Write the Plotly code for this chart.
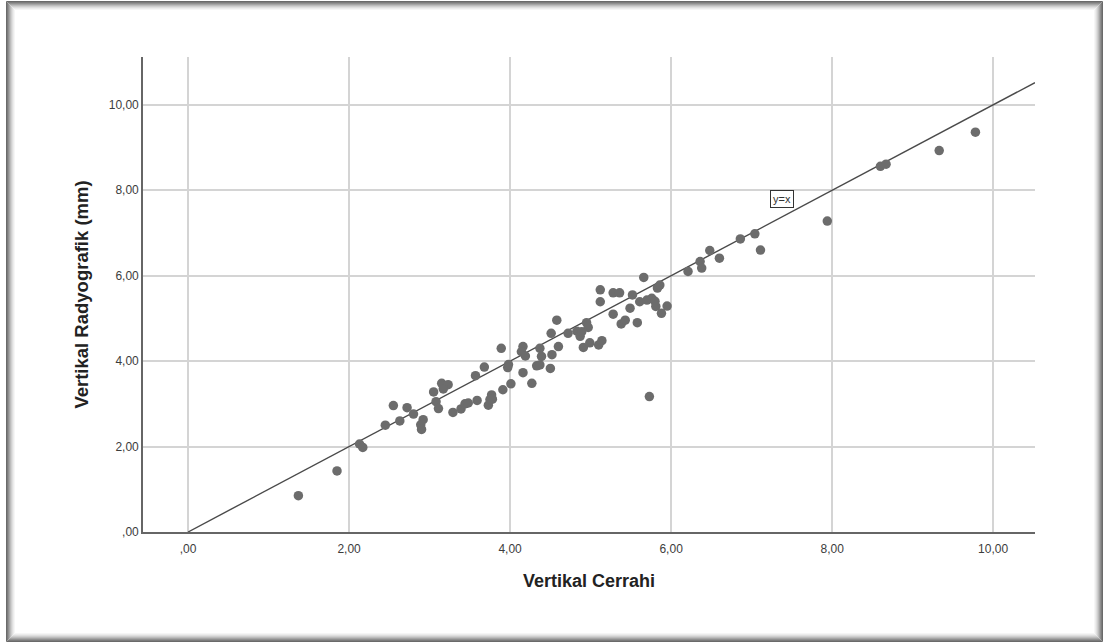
import plotly.graph_objects as go

# Data (Vertikal Cerrahi vs Vertikal Radyografik)
cerrahi = [1.37, 1.85, 2.13, 2.17, 2.45, 2.55, 2.63, 2.72, 2.80, 2.92, 2.89, 2.90,
           3.05, 3.08, 3.11, 3.15, 3.23, 3.17, 3.29, 3.39, 3.44, 3.48, 3.57, 3.68,
           3.59, 3.73, 3.75, 3.77, 3.91, 4.01, 3.97, 3.98, 4.16, 4.27, 3.89, 4.58,
           4.51, 4.16, 4.14, 4.19, 4.37, 4.39, 4.60, 4.52, 4.33, 4.37, 4.50, 4.72,
           4.83, 4.87, 4.95, 4.97, 4.91, 4.99, 5.10, 5.14, 5.12, 5.12, 5.28, 5.36,
           5.28, 5.38, 5.43, 5.49, 5.52, 5.58, 5.66, 5.61, 5.70, 5.76, 5.80, 5.83,
           5.86, 5.81, 5.88, 5.95, 5.73, 6.21, 6.36, 6.38, 6.48, 6.60, 6.86, 7.04,
           7.11, 7.94, 8.60, 8.67, 9.33, 9.78, 4.89, 3.78]
radyografik = [0.85, 1.43, 2.06, 1.98, 2.50, 2.96, 2.60, 2.91, 2.76, 2.63, 2.51, 2.40,
               3.28, 3.05, 2.89, 3.48, 3.45, 3.35, 2.80, 2.88, 3.00, 3.02, 3.66, 3.86,
               3.08, 2.97, 3.10, 3.21, 3.33, 3.47, 3.85, 3.92, 3.73, 3.48, 4.30, 4.96,
               4.65, 4.34, 4.22, 4.12, 4.30, 4.11, 4.34, 4.15, 3.89, 3.91, 3.83, 4.65,
               4.70, 4.58, 4.90, 4.79, 4.32, 4.43, 4.38, 4.48, 5.67, 5.39, 5.60, 5.60,
               5.10, 4.87, 4.96, 5.24, 5.55, 4.90, 5.96, 5.39, 5.43, 5.47, 5.40, 5.71,
               5.78, 5.28, 5.12, 5.29, 3.17, 6.10, 6.33, 6.18, 6.59, 6.41, 6.86, 6.98,
               6.60, 7.28, 8.56, 8.61, 8.93, 9.36, 4.69, 3.11]
ref_line = [0.0, 10.52]
x_ticks = [0, 2, 4, 6, 8, 10]
x_tick_text = [",00", "2,00", "4,00", "6,00", "8,00", "10,00"]
y_ticks = [0, 2, 4, 6, 8, 10]
y_tick_text = [",00", "2,00", "4,00", "6,00", "8,00", "10,00"]

W, H = 1104, 643
L, R, T, B = 143, 69, 57, 111
PW, PH = W - L - R, H - T - B

def px(xp):
    return (xp - L) / PW

def py(yp):
    return (H - B - yp) / PH

fig = go.Figure()
fig.add_trace(go.Scatter(x=ref_line, y=ref_line, mode="lines",
                         line=dict(color="#4a4a4a", width=1.4),
                         hoverinfo="skip", showlegend=False, cliponaxis=False))
fig.add_trace(go.Scatter(x=cerrahi, y=radyografik, mode="markers",
                         marker=dict(color="#6c6c6c", size=9.5, line=dict(width=0)),
                         showlegend=False))

axis_common = dict(showgrid=True, gridcolor="#d4d4d4", gridwidth=1.5,
                   zeroline=False, showline=True, linecolor="#666666", linewidth=1.6,
                   ticks="", tickfont=dict(family="Liberation Sans, Arial", size=12, color="#3c3c3c"),
                   mirror=False)

fig.update_layout(
    width=W, height=H,
    margin=dict(l=L, r=R, t=T, b=B),
    paper_bgcolor="white", plot_bgcolor="white",
    xaxis=dict(range=[-0.56, 10.52], tickvals=x_ticks, ticktext=x_tick_text,
               ticklabelstandoff=5,
               title=dict(text="<b>Vertikal Cerrahi</b>", standoff=19,
                          font=dict(family="Liberation Sans, Arial", size=18, color="#222222")),
               **axis_common),
    yaxis=dict(range=[0, 11.12], tickvals=y_ticks, ticktext=y_tick_text,
               title=dict(text="<b>Vertikal Radyografik (mm)</b>", standoff=15,
                          font=dict(family="Liberation Sans, Arial", size=18.5, color="#222222")),
               **axis_common),
    annotations=[dict(x=7.38, y=7.80, xref="x", yref="y", text="y=x", showarrow=False,
                      font=dict(family="Liberation Sans, Arial", size=11, color="#333333"),
                      bordercolor="#333333", borderwidth=1, borderpad=2, bgcolor="white")],
)

# Framed border with a soft gradient (picture frame look)
grays = ["#6a6a6a", "#7c7c7c", "#909090", "#a6a6a6", "#bcbcbc", "#cfcfcf", "#dfdfdf", "#ececec", "#f6f6f6"]
shapes = []
for i, g in enumerate(grays):
    x0p, y0p = 6.5 + i, 1.5 + i
    x1p, y1p = W - 1.5 - i, H - 1.5 - i
    shapes.append(dict(type="rect", xref="paper", yref="paper", layer="below",
                       x0=px(x0p), x1=px(x1p), y0=py(y1p), y1=py(y0p),
                       line=dict(color=g, width=1), fillcolor="rgba(0,0,0,0)"))
fig.update_layout(shapes=shapes)

fig.write_html("out.html")
